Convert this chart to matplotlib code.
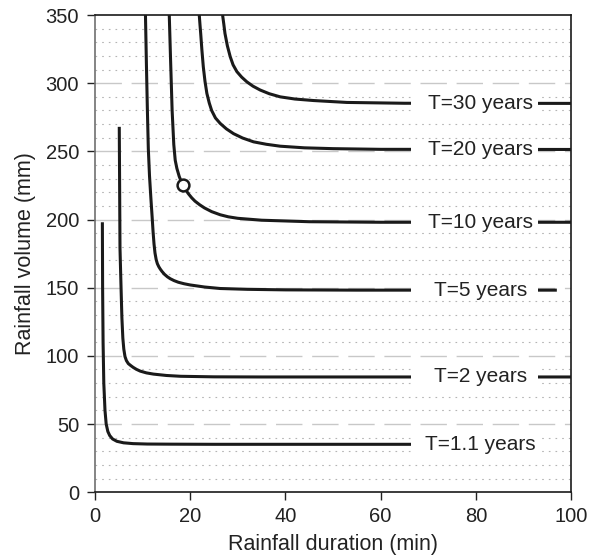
import matplotlib
matplotlib.use("Agg")
import matplotlib.pyplot as plt
from matplotlib.patches import Rectangle

plt.rcParams['font.family'] = ['Liberation Sans', 'DejaVu Sans']

# Curve data (duration in min, volume in mm)
t11_x = [1.55, 1.6, 1.7, 1.85, 2.1, 2.35, 2.7, 3.1, 3.7, 4.6, 6, 8, 11, 16, 25, 40, 67]
t11_y = [198, 150, 110, 80, 60, 50, 44.5, 41.5, 39, 37.3, 36.2, 35.6, 35.3, 35.2, 35.1, 35.1, 35.1]

t2_x = [5.1, 5.25, 5.45, 5.65, 5.85, 6.05, 6.3, 6.6, 7.0, 7.5, 8.0, 8.7, 9.5, 10.8, 12.3, 15, 18, 25, 35, 50, 70, 100]
t2_y = [268, 179, 153, 128, 113, 105, 99.5, 96.5, 94.3, 92.9, 91.6, 90.1, 88.8, 87.5, 86.6, 85.6, 85.0, 84.6, 84.5, 84.5, 84.5, 84.5]

t5_x = [10.6, 10.8, 11.0, 11.2, 11.45, 11.75, 12.0, 12.2, 12.4, 12.6, 12.85, 13.1, 13.4, 13.7, 14.1, 14.6, 15.2,
        15.8, 16.6, 17.5, 18.7, 20, 23, 26.3, 32, 40, 55, 75, 97]
t5_y = [350, 314, 281, 252, 232, 215, 202, 191, 182, 175.5, 170.6, 167.6, 165.4, 163.7, 161.8, 159.8, 158.0,
        156.6, 155.2, 154, 152.9, 152, 150.5, 149.4, 148.8, 148.4, 148.2, 148.2, 148.2]

t10_x = [15.6, 15.85, 16.2, 16.55, 16.85, 17.2, 17.7, 18.4, 19.0, 19.6, 20.3, 21, 22, 23, 24.5, 26.3, 28, 30, 35, 45, 60, 100]
t10_y = [350, 320, 280, 255, 243.5, 237.5, 231.5, 225.5, 222, 219, 216, 213.5, 210.8, 208.5, 205.8, 203.5, 202, 200.9, 199.5, 198.4, 198, 198]

t20_x = [21.9, 22.05, 22.2, 22.45, 22.75, 23.1, 23.5, 24.0, 24.5, 25.3, 26.3, 27.6, 29.1, 31, 33.3, 36, 38.9,
         44, 50, 60, 100]
t20_y = [350, 343, 336.5, 324.5, 312, 301.5, 292.5, 285.5, 280, 274.5, 270.5, 266.5, 263, 259.8, 257, 255.2, 253.8,
         252.6, 252, 251.5, 251.4]

t30_x = [26.8, 27.05, 27.3, 27.8, 28.4, 29.0, 29.8, 30.8, 31.9, 33.2, 34.7, 36.6, 38.9, 42, 45.9, 52.9, 65, 100]
t30_y = [350, 343.5, 336.5, 327.5, 319.5, 313.5, 308.5, 304.5, 301, 297.8, 295, 292.3, 290, 288.4, 287.3, 285.9, 285.3, 285.2]

curves = [(t11_x, t11_y), (t2_x, t2_y), (t5_x, t5_y), (t10_x, t10_y), (t20_x, t20_y), (t30_x, t30_y)]
labels = ['T=1.1 years', 'T=2 years', 'T=5 years', 'T=10 years', 'T=20 years', 'T=30 years']
label_y = [35.1, 84.5, 148.2, 198, 251.4, 285.2]

point_x = [18.4]
point_y = [225.5]

x_ticks = [0, 20, 40, 60, 80, 100]
y_ticks = [0, 50, 100, 150, 200, 250, 300, 350]

fig = plt.figure(figsize=(5.9, 5.58), dpi=100)
ax = fig.add_axes([0.161, 0.118, 0.807, 0.855])
ax.set_xlim(0, 100)
ax.set_ylim(0, 350)

# grid: dashed majors, dotted minors
for yv in range(10, 350, 10):
    if yv % 50 == 0:
        ax.axhline(yv, color='#c8c8c8', lw=1.0, ls=(0, (19, 7)), zorder=1)
    else:
        ax.axhline(yv, color='#b4b4b4', lw=0.8, ls=(0, (1.5, 4.5)), zorder=1)

for xs, ys in curves:
    ax.plot(xs, ys, color='#1a1a1a', lw=2.2, solid_joinstyle='round', solid_capstyle='butt', zorder=3)

ax.plot(point_x, point_y, 'o', ms=8.5, mfc='white', mec='#1a1a1a', mew=1.8, zorder=6)

for lab, yv in zip(labels, label_y):
    ax.add_patch(Rectangle((66.4, yv - 7), 26.6, 14, facecolor='white', edgecolor='none', zorder=4))
    ax.text(81, yv, lab, ha='center', va='center', fontsize=15, color='#222222', zorder=5)

ax.set_xticks(x_ticks)
ax.set_yticks(y_ticks)
ax.tick_params(direction='out', length=5.5, width=1.0, labelsize=14.5, pad=5, colors='#222222')
ax.tick_params(axis='y', pad=6)
for s in ['top', 'right', 'bottom']:
    ax.spines[s].set_color('#1a1a1a')
    ax.spines[s].set_linewidth(1.2)
ax.spines['left'].set_color('#707070')
ax.spines['left'].set_linewidth(1.2)

ax.set_xlabel('Rainfall duration (min)', fontsize=15.5, color='#222222', labelpad=6)
ax.set_ylabel('Rainfall volume (mm)', fontsize=15.5, color='#222222', labelpad=7)

fig.savefig('out.png', dpi=100)
